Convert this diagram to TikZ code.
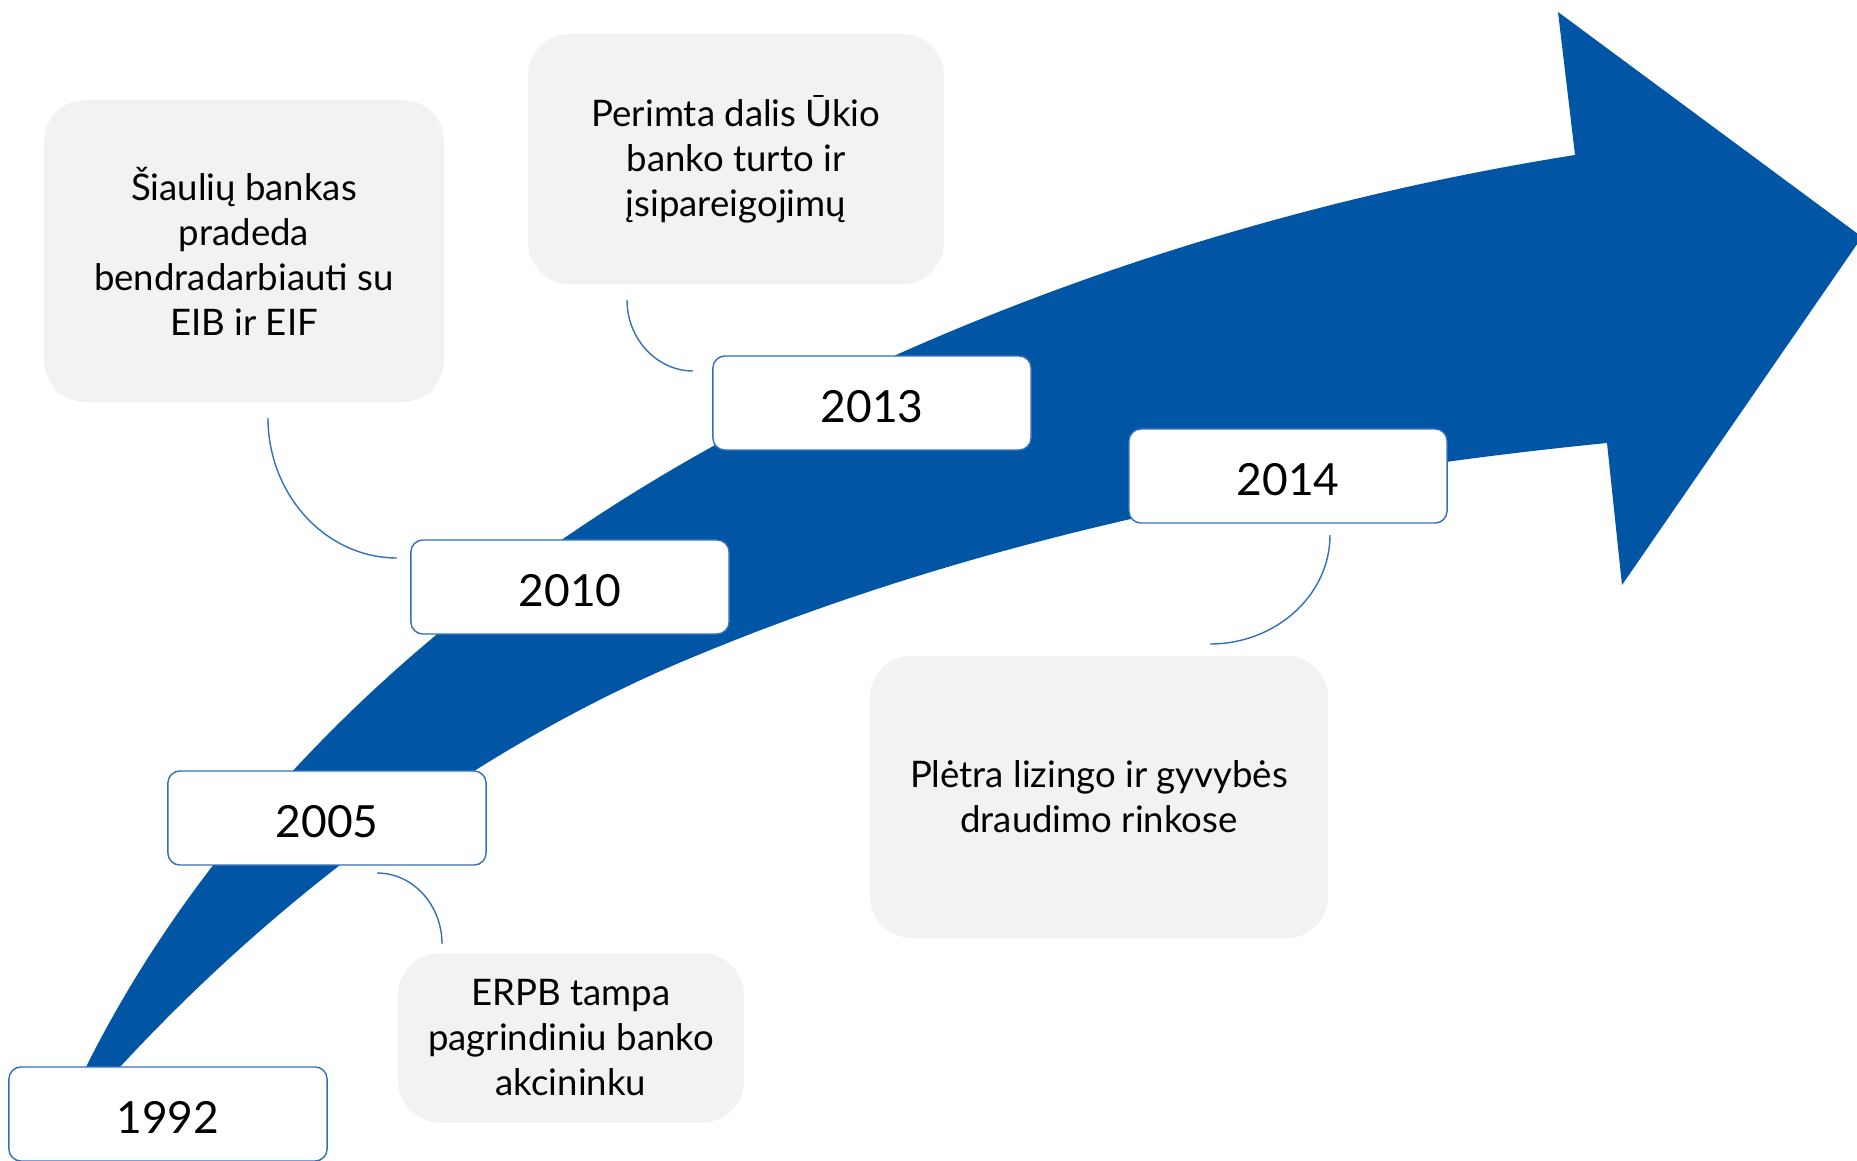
\documentclass[tikz,border=0pt]{standalone}
\usepackage{fontspec}
\setmainfont{Lato}
\definecolor{sebblue}{HTML}{0055A5}
\definecolor{lineblue}{HTML}{3470B8}
\definecolor{boxgrey}{HTML}{F2F2F2}

\begin{document}
\begin{tikzpicture}[x=0.01cm,y=-0.01cm,
	year/.style={draw=lineblue,line width=0.4pt,fill=white,rounded corners=0.12cm,minimum width=3.18cm,minimum height=0.94cm,inner sep=0pt,text height=11pt,text depth=0pt,font=\fontsize{12.6}{15}\selectfont},
	event/.style={fill=boxgrey,rounded corners=0.42cm,inner sep=0pt,align=center,font=\fontsize{10.4}{12.8}\selectfont},
	link/.style={draw=lineblue,line width=0.4pt}]
	\useasboundingbox (0,0) rectangle (1857,1161);

	\fill[sebblue] (78,1090) -- (86,1067) .. controls (220,799) and (454,589) .. (717,444)
		.. controls (980,299) and (1279,202) .. (1575,155)
		-- (1558,12) -- (1862,237) -- (1622,585) -- (1607,443)
		.. controls (1294,474) and (976,538) .. (686,660)
		.. controls (474,749) and (276,898) .. (120,1067) -- (100,1090) -- cycle;

	\coordinate (l1a) at (268,418); \coordinate (l1b) at (397,558);
	\coordinate (l2a) at (627,300); \coordinate (l2b) at (693,371);
	\coordinate (l3a) at (1330,535); \coordinate (l3b) at (1210,644);
	\coordinate (l4a) at (377,873); \coordinate (l4b) at (442,944);

	\draw[link] (l1a) .. controls +(0,77) and +(-71,0) .. (l1b);
	\draw[link] (l2a) .. controls +(0,39) and +(-36,0) .. (l2b);
	\draw[link] (l3a) .. controls +(0,60) and +(66,0) .. (l3b);
	\draw[link] (l4a) .. controls +(36,0) and +(0,-39) .. (l4b);

	\node[year] (y1992) at (168,1114) {1992};
	\node[year] (y2005) at (327,818) {2005};
	\node[year] (y2010) at (570,587) {2010};
	\node[year] (y2013) at (872,403) {2013};
	\node[year] (y2014) at (1288,476) {2014};

	\node[event,minimum width=4cm,minimum height=3.02cm] (siauliai) at (244,251) {Šiaulių bankas\\pradeda\\bendradarbiauti su\\EIB ir EIF};
	\node[event,minimum width=4.16cm,minimum height=2.5cm] (ukio) at (736,159) {Perimta dalis Ūkio\\banko turto ir\\įsipareigojimų};
	\node[event,minimum width=4.58cm,minimum height=2.82cm] (pletra) at (1099,797) {Plėtra lizingo ir gyvybės\\draudimo rinkose};
	\node[event,minimum width=3.46cm,minimum height=1.69cm] (erpb) at (571,1038) {ERPB tampa\\pagrindiniu banko\\akcininku};
\end{tikzpicture}
\end{document}
